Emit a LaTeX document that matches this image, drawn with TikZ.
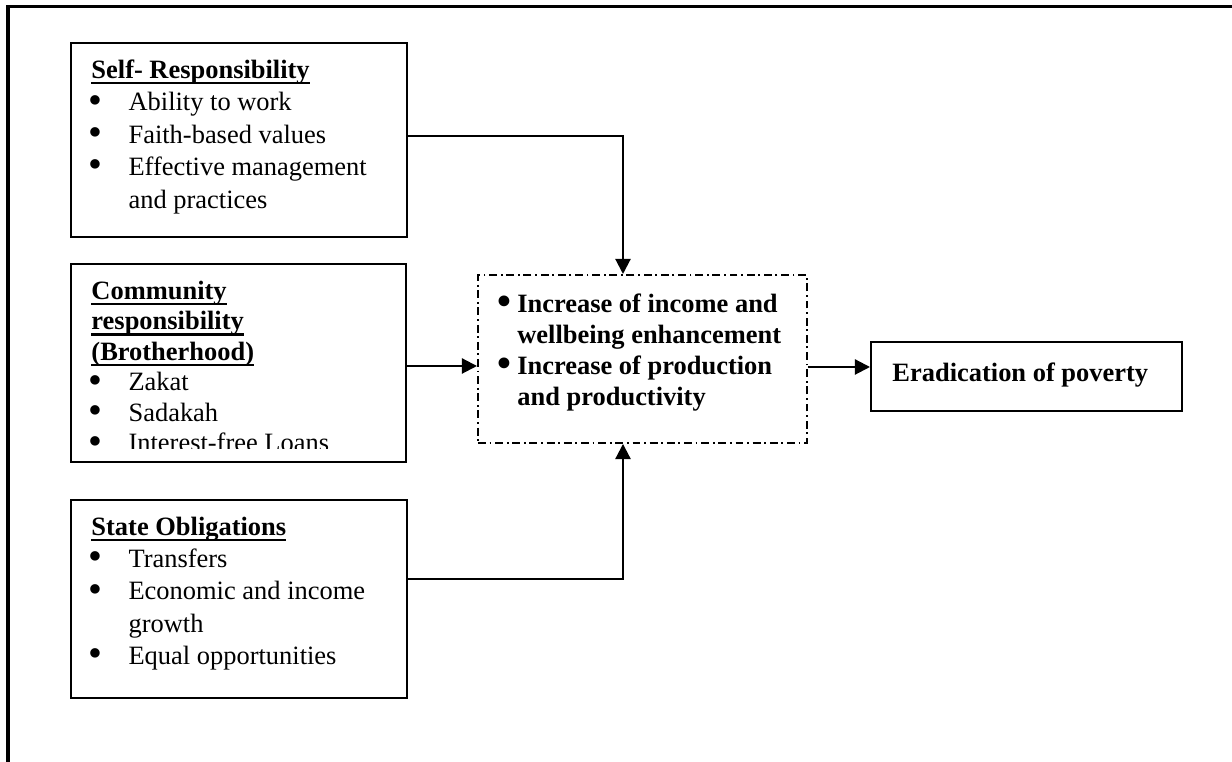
\documentclass[tikz,border=0pt]{standalone}
\usepackage{fontspec}
\usepackage{graphicx}
\setmainfont{Liberation Serif}
\usetikzlibrary{arrows.meta}
\def\PX{0.431pt}
\newcommand\bigbul{\raisebox{-0.9pt}{\scalebox{1.5}{\textbullet}}}
\newcommand\itmB{\hspace*{-1.2pt}\makebox[17.2pt][l]{\bigbul}}
\newcommand\itmC{\hspace*{16pt}}
\newcommand\itmM{\hspace*{-2.4pt}\makebox[8.4pt][l]{\bigbul}}
\newcommand\itmN{\hspace*{6pt}}
\newcommand\fstrut{\rule{0pt}{9pt}}
\newcommand\ulx[1]{\setbox0\hbox{#1}\rlap{\rule[-2.4pt]{\wd0}{0.9pt}}\box0}
\begin{document}
\begin{tikzpicture}[x=0.431pt,y=-0.431pt,
  box/.style={draw, line width=0.9pt, inner sep=0pt, anchor=north west},
  dashbox/.style={draw, line width=0.85pt, inner sep=0pt, anchor=north west,
    dash pattern=on 3.4pt off 1.6pt on 0.8pt off 1.6pt},
  txt/.style={anchor=north west, inner sep=0pt, align=left},
  conn/.style={line width=0.9pt},
  arr/.style={conn, -{Triangle[length=6.5pt,width=6.5pt]}}]
\useasboundingbox (0,0) rectangle (1232,762);
% outer frame (top and left only)
\draw[line width=1.3pt] (8,762) -- (8,6.5) -- (1232,6.5);

% boxes
\node[box, minimum width=336*\PX, minimum height=194*\PX] (self) at (70,42) {};
\node[box, minimum width=335*\PX, minimum height=198*\PX] (comm) at (70,263) {};
\node[box, minimum width=336*\PX, minimum height=198*\PX] (state) at (70,499) {};
\node[dashbox, minimum width=329*\PX, minimum height=168*\PX] (mid) at (477,274) {};
\node[box, minimum width=311*\PX, minimum height=69*\PX] (erad) at (870,341) {};

% texts (node top = first baseline - 20.9px)
\node[txt, font=\fontsize{11.4}{14}\selectfont] (selft) at (91,57.1) {\fstrut\textbf{\ulx{Self- Responsibility}}\\
\itmB Ability to work\\
\itmB Faith-based values\\
\itmB Effective management\\
\itmC and practices};

\begin{scope}
\clip (70,263) rectangle (405,449);
\node[txt, font=\fontsize{11.4}{13.15}\selectfont] (commt) at (91,278.1) {\fstrut\textbf{\ulx{Community}}\\
\textbf{\ulx{responsibility}}\\
\textbf{\ulx{(Brotherhood)}}\\
\itmB Zakat\\
\itmB Sadakah\\
\itmB Interest-free Loans};
\end{scope}

\node[txt, font=\fontsize{11.4}{13.9}\selectfont] (statet) at (91,514.1) {\fstrut\textbf{\ulx{State Obligations}}\\
\itmB Transfers\\
\itmB Economic and income\\
\itmC growth\\
\itmB Equal opportunities};

\node[txt, font=\fontsize{11.4}{13.4}\selectfont\bfseries] (midt) at (503,291.1) {\fstrut\itmM Increase of income and\\
\itmN wellbeing enhancement\\
\itmM Increase of production\\
\itmN and productivity};

\node[txt, font=\fontsize{11.4}{14}\selectfont\bfseries] (eradt) at (892,360.1) {\fstrut Eradication of poverty};

% connectors
\coordinate (jx) at (623,0);
\coordinate (y1) at (0,366);
\coordinate (y2) at (0,367);
\draw[arr] (self.east |- 0,136) -| (jx |- mid.north);
\draw[arr] (state.east |- 0,579) -| (jx |- mid.south);
\draw[arr] (comm.east |- y1) -- (mid.west |- y1);
\draw[arr] (mid.east |- y2) -- (erad.west |- y2);
\end{tikzpicture}
\end{document}
